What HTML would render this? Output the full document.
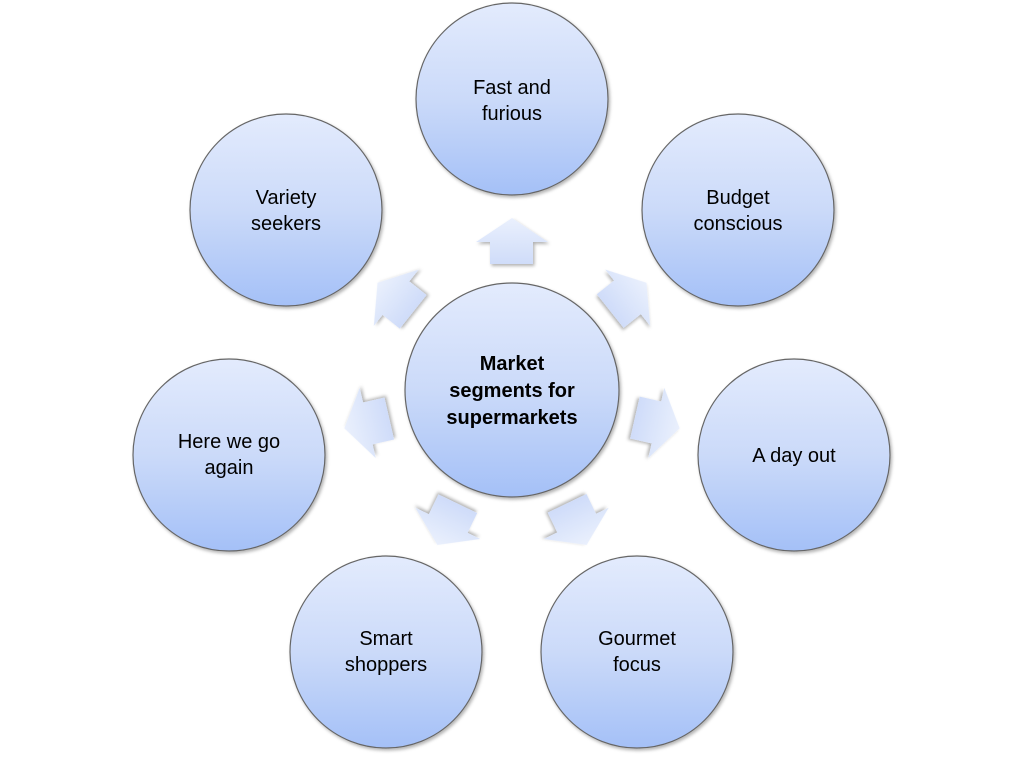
<!DOCTYPE html>
<html><head><meta charset="utf-8"><style>
html,body{margin:0;padding:0;background:#fff;}
svg{display:block}
text{font-family:"Liberation Sans",sans-serif;font-size:20px;fill:#000;text-anchor:middle;}
</style></head><body>
<svg width="1024" height="757" viewBox="0 0 1024 757" xmlns="http://www.w3.org/2000/svg">
<defs>
<linearGradient id="cg" x1="0" y1="0" x2="0" y2="1">
<stop offset="0" stop-color="#e3ebfd"/><stop offset="0.5" stop-color="#cbdaf9"/><stop offset="1" stop-color="#a4c0f7"/>
</linearGradient>
<linearGradient id="ag" x1="0" y1="0" x2="0" y2="1">
<stop offset="0" stop-color="#eaf0fd"/><stop offset="1" stop-color="#cfdcf9"/>
</linearGradient>
<filter id="sh" x="-20%" y="-20%" width="150%" height="150%">
<feDropShadow dx="1.5" dy="2" stdDeviation="1.5" flood-color="#000" flood-opacity="0.3"/>
</filter>
<g id="arr"><path d="M512 218 L548 242 L533 242 L533 264 L490 264 L490 242 L476 242 Z" fill="url(#ag)" filter="url(#sh)"/></g>
</defs>
<g>
<use href="#arr" transform="rotate(0 512 390)"/>
<use href="#arr" transform="rotate(51.43 512 390)"/>
<use href="#arr" transform="rotate(102.86 512 390)"/>
<use href="#arr" transform="rotate(154.29 512 390)"/>
<use href="#arr" transform="rotate(205.71 512 390)"/>
<use href="#arr" transform="rotate(257.14 512 390)"/>
<use href="#arr" transform="rotate(308.57 512 390)"/>
</g>
<g fill="url(#cg)" stroke="#666" stroke-width="1.2" filter="url(#sh)">
<circle cx="512" cy="390" r="107"/>
<circle cx="512" cy="99" r="96"/>
<circle cx="738" cy="210" r="96"/>
<circle cx="794" cy="455" r="96"/>
<circle cx="637" cy="652" r="96"/>
<circle cx="386" cy="652" r="96"/>
<circle cx="229" cy="455" r="96"/>
<circle cx="286" cy="210" r="96"/>
</g>
<text x="512" y="370" style="font-weight:bold">Market</text>
<text x="512" y="397" style="font-weight:bold">segments for</text>
<text x="512" y="424" style="font-weight:bold">supermarkets</text>
<text x="512" y="94">Fast and</text><text x="512" y="120">furious</text>
<text x="738" y="204">Budget</text><text x="738" y="230">conscious</text>
<text x="794" y="462">A day out</text>
<text x="637" y="645">Gourmet</text><text x="637" y="671">focus</text>
<text x="386" y="645">Smart</text><text x="386" y="671">shoppers</text>
<text x="229" y="448">Here we go</text><text x="229" y="474">again</text>
<text x="286" y="204">Variety</text><text x="286" y="230">seekers</text>
</svg>
</body></html>
